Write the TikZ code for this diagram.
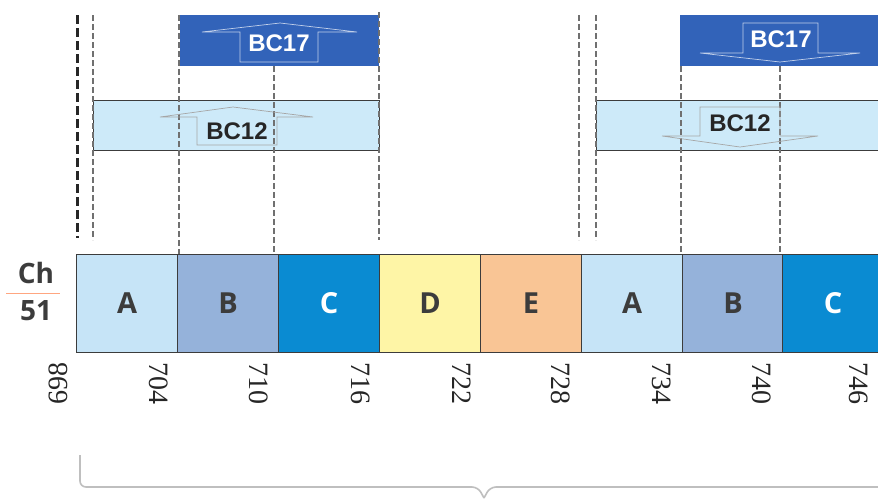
\documentclass[tikz,border=0pt]{standalone}
\usepackage{fontspec}
\setmainfont{Liberation Serif}
\newfontfamily\bcfont{Liberation Sans}
\newfontfamily\cellfont{Open Sans}
\usetikzlibrary{calc}

\definecolor{cA}{HTML}{C6E4F7}
\definecolor{cB}{HTML}{95B2DA}
\definecolor{cC}{HTML}{0A8BD2}
\definecolor{cD}{HTML}{FEF5A6}
\definecolor{cE}{HTML}{F9C595}
\definecolor{bcdark}{HTML}{3263B9}
\definecolor{bclight}{HTML}{CDEAF9}
\definecolor{edge}{HTML}{3C3C3C}
\definecolor{guide}{HTML}{707070}

\tikzset{
  cell/.style={draw=edge, line width=1.2pt, anchor=north west, inner sep=0pt,
    minimum width=101pt, minimum height=98pt, font=\cellfont\bfseries\fontsize{29}{29}\selectfont, text=edge},
  tick/.style={rotate=-90, anchor=west, inner sep=0pt, font=\fontsize{28}{28}\selectfont, text=black!85},
  bandhi/.style={fill=bcdark, anchor=north west, inner sep=0pt, minimum height=51pt},
  bandlo/.style={fill=bclight, draw=edge, line width=1pt, anchor=north west, inner sep=0pt, minimum height=50pt},
  bctext/.style={font=\bcfont\bfseries\fontsize{24}{24}\selectfont, inner sep=0pt},
  guideline/.style={draw=guide, line width=1.1pt, dash pattern=on 6pt off 3pt},
  bigguide/.style={draw=black!85, line width=3pt, dash pattern=on 9pt off 4pt},
  outline/.style={line width=0.7pt},
  brace/.style={draw=black!25, line width=1.6pt, rounded corners=6pt},
  chlabel/.style={font=\cellfont\bfseries\fontsize{28}{28}\selectfont, text=edge, inner sep=0pt}
}

\begin{document}
\begin{tikzpicture}[x=1pt,y=-1pt]
\useasboundingbox (0,0) rectangle (878,498);
\fill[white] (0,0) rectangle (878,498);
\clip (0,0) rectangle (878,498);

% channel label
\node[chlabel] (ch) at (36,273) {Ch};
\node[chlabel] (num) at (36,311) {51};
\draw[draw=orange!60!red!50, line width=1pt] (6,293) -- (60,293);

% subcarrier cells
\node[cell, fill=cA] (a1) at (76,254) {A};
\node[cell, fill=cB] (b1) at (177,254) {B};
\node[cell, fill=cC, text=white] (c1) at (278,254) {C};
\node[cell, fill=cD] (d1) at (379,254) {D};
\node[cell, fill=cE] (e1) at (480,254) {E};
\node[cell, fill=cA] (a2) at (581,254) {A};
\node[cell, fill=cB] (b2) at (682,254) {B};
\node[cell, fill=cC, text=white] (c2) at (782,254) {C};

% frequency ticks
\node[rotate=90, anchor=east, inner sep=0pt, font=\fontsize{28}{28}\selectfont, text=black!85] (f698) at (58,362) {698};
\node[tick] (f704) at (159,362) {704};
\node[tick] (f710) at (259,362) {710};
\node[tick] (f716) at (361,362) {716};
\node[tick] (f722) at (462,362) {722};
\node[tick] (f728) at (561,362) {728};
\node[tick] (f734) at (662,362) {734};
\node[tick] (f740) at (762,362) {740};
\node[tick] (f746) at (859,362) {746};

% bonded channel bands
\node[bandhi, minimum width=199pt] (hi1) at (180,15) {};
\node[bandlo, minimum width=286pt] (lo1) at (93,100) {};
\node[bandhi, minimum width=220pt] (hi2) at (680,15) {};
\node[bandlo, minimum width=300pt] (lo2) at (596,100) {};

% guide lines
\draw[bigguide] (77,15) -- (77,238);
\draw[guideline] (93,15) -- (93,240);
\draw[guideline] (179,15) -- (179,254);
\draw[guideline] (274,66) -- (274,254);
\draw[guideline] (379,12) -- (379,240);
\draw[guideline] (579,15) -- (579,240);
\draw[guideline] (596,15) -- (596,240);
\draw[guideline] (681,66) -- (681,254);
\draw[guideline] (780,66) -- (780,254);

% up arrow callouts
\draw[outline, draw=white!70!bcdark] (202,32) -- (280,23) -- (357,32) -- (318,32) -- (318,62) -- (240,62) -- (240,32) -- cycle;
\node[bctext, text=white] (t17a) at (279,43) {BC17};
\draw[outline, draw=black!35] (160,117) -- (233,107) -- (313,117) -- (277,117) -- (277,145) -- (197,145) -- (197,117) -- cycle;
\node[bctext, text=black!85] (t12a) at (237,131) {BC12};

% down arrow callouts
\draw[outline, draw=white!70!bcdark] (743,23) -- (818,23) -- (818,53) -- (860,53) -- (780,62) -- (700,53) -- (743,53) -- cycle;
\node[bctext, text=white] (t17b) at (781,39) {BC17};
\draw[outline, draw=black!35] (700,107) -- (780,107) -- (780,136) -- (818,136) -- (740,147) -- (662,136) -- (700,136) -- cycle;
\node[bctext, text=black!85] (t12b) at (740,123) {BC12};

% span brace
\coordinate (bl) at (80,455);
\coordinate (bm) at (484,498);
\draw[brace] (bl) -- (80,487) -- (478,487) -- (484,498);
\draw[brace] (bm) -- (490,487) -- (890,487);
\end{tikzpicture}
\end{document}
